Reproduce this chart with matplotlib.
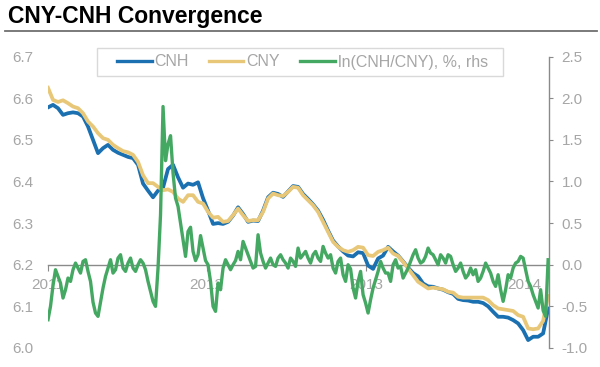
import matplotlib
matplotlib.use("Agg")
import matplotlib.pyplot as plt
import matplotlib.dates as mdates
from matplotlib.patches import Rectangle
import pandas as pd

plt.rcParams['font.family'] = ['Liberation Sans', 'DejaVu Sans']
plt.rcParams['axes.unicode_minus'] = False

title = "CNY-CNH Convergence"
start_date = "2011-01-01"
step_fx = "276h"      # sampling step of the traced CNY / CNH series (~11.5 days)
step_spread = "138h"  # sampling step of the traced spread series (~5.75 days)

cny = [6.625, 6.596, 6.591, 6.595, 6.588, 6.580, 6.576, 6.564, 6.544, 6.532, 6.516, 6.504, 6.500, 6.488, 6.480, 6.473, 6.470, 6.464,
       6.447, 6.415, 6.396, 6.396, 6.387, 6.379, 6.381, 6.375, 6.359, 6.351, 6.367, 6.367, 6.351, 6.347, 6.327, 6.313,
       6.315, 6.303, 6.305, 6.319, 6.335, 6.319, 6.305, 6.307, 6.307, 6.327, 6.359, 6.371, 6.367, 6.365, 6.375, 6.387, 6.385,
       6.367, 6.355, 6.343, 6.327, 6.303, 6.279, 6.255, 6.243, 6.235, 6.231, 6.235, 6.243, 6.241, 6.223, 6.221, 6.231, 6.235,
       6.241, 6.227, 6.221, 6.207, 6.191, 6.175, 6.159, 6.151, 6.143, 6.145, 6.143, 6.141, 6.135, 6.133, 6.123, 6.121, 6.121,
       6.121, 6.121, 6.121, 6.115, 6.103, 6.095, 6.093, 6.091, 6.089, 6.079, 6.075, 6.047, 6.045, 6.047, 6.065, 6.125]

cnh = [6.578, 6.584, 6.576, 6.560, 6.564, 6.566, 6.564, 6.556, 6.532, 6.500, 6.468, 6.480, 6.488, 6.476, 6.469, 6.464, 6.459, 6.456,
       6.440, 6.395, 6.378, 6.362, 6.378, 6.385, 6.430, 6.440, 6.410, 6.385, 6.395, 6.392, 6.398, 6.360, 6.330, 6.298,
       6.300, 6.298, 6.303, 6.318, 6.338, 6.322, 6.303, 6.306, 6.305, 6.330, 6.362, 6.373, 6.370, 6.363, 6.376, 6.389, 6.387,
       6.370, 6.358, 6.345, 6.330, 6.308, 6.282, 6.258, 6.244, 6.232, 6.222, 6.220, 6.230, 6.228, 6.198, 6.190, 6.215, 6.222,
       6.243, 6.232, 6.222, 6.208, 6.193, 6.180, 6.172, 6.155, 6.148, 6.147, 6.143, 6.140, 6.134, 6.130, 6.118, 6.115, 6.114,
       6.111, 6.111, 6.108, 6.100, 6.087, 6.075, 6.075, 6.073, 6.067, 6.059, 6.043, 6.019, 6.027, 6.027, 6.035, 6.095]

spread = [-0.66, -0.50, -0.25, -0.06, -0.14, -0.22, -0.40, -0.30, -0.16, -0.20, -0.06, 0.02,
          -0.04, -0.10, 0.04, 0.06, -0.08, -0.20, -0.45, -0.58, -0.62, -0.45, -0.28, -0.14,
          -0.04, 0.06, -0.10, -0.06, 0.08, 0.12, -0.04, -0.08, 0.02, 0.08, -0.04, -0.08,
          0.00, 0.06, 0.02, -0.06, -0.20, -0.32, -0.44, -0.50, -0.04, 0.60, 1.90, 1.25,
          1.45, 1.55, 1.10, 0.80, 0.70, 0.50, 0.30, 0.10, 0.40, 0.45, 0.16, 0.05,
          0.12, 0.35, 0.20, 0.05, 0.00, -0.20, -0.50, -0.56,
          -0.22, -0.30, -0.04, 0.06, 0.00, -0.06, 0.00, 0.05, 0.16, 0.06, 0.28, 0.20,
          0.12, 0.04, -0.04, -0.02, 0.36, 0.14, 0.04, -0.04, 0.02, 0.08, 0.00, -0.02,
          0.08, 0.12, 0.06, 0.02, -0.04, 0.08, 0.04, -0.02, 0.20, 0.08,
          0.12, 0.16, 0.08, 0.02, 0.12, 0.16, 0.08, 0.04, 0.22, 0.14, 0.08, 0.12,
          -0.04, -0.10, 0.04, 0.08, -0.12, -0.20, 0.00, -0.05, -0.28, -0.40, -0.20, -0.08,
          -0.36, -0.46, -0.58, -0.42, -0.28, -0.18, -0.08, 0.04, -0.04, -0.10,
          -0.10, -0.20, 0.00, 0.06, -0.04, -0.02, -0.16, -0.10, -0.04, 0.04, 0.12, 0.18,
          0.08, 0.02, 0.04, 0.10, 0.20, 0.14, 0.12, 0.06, 0.00, 0.12, 0.08, 0.02,
          0.12, 0.10, 0.00, -0.08, -0.04, 0.02, -0.08, -0.16, -0.12, -0.04,
          -0.12, -0.06, -0.20, -0.16, -0.08, 0.02, -0.04, -0.10, -0.20, -0.26, -0.12, -0.30,
          -0.44, -0.30, -0.12, -0.16, -0.04, 0.02, 0.04, 0.10, 0.08, -0.06, -0.20, -0.26,
          -0.36, -0.44, -0.52, -0.30, -0.55, -0.62, 0.06]

left_ticks = [6.0, 6.1, 6.2, 6.3, 6.4, 6.5, 6.6, 6.7]
right_ticks = [-1.0, -0.5, 0.0, 0.5, 1.0, 1.5, 2.0, 2.5]
labels = ["CNH", "CNY", "ln(CNH/CNY), %, rhs"]

dates_fx = pd.date_range(start_date, periods=len(cny), freq=step_fx)
dates_sp = pd.date_range(start_date, periods=len(spread), freq=step_spread)

c_blue = '#1a70b0'
c_yel = '#e8c878'
c_grn = '#45a862'
c_lab = '#a6a6a6'
c_axis = '#8a8a8a'

fig = plt.figure(figsize=(6.0, 3.67), dpi=100)
ax = fig.add_axes([0.08, 0.0518, 0.835, 0.794])
ax2 = ax.twinx()

l1, = ax.plot(dates_fx, cnh, color=c_blue, lw=2.7, zorder=3, solid_joinstyle='round')
l2, = ax.plot(dates_fx, cny, color=c_yel, lw=2.7, zorder=4, solid_joinstyle='round')
l3, = ax2.plot(dates_sp, spread, color=c_grn, lw=2.4, zorder=3, solid_joinstyle='round')

ax.set_xlim(dates_fx[0], dates_fx[-1] + pd.Timedelta(days=2))
ax.set_ylim(6.0, 6.7)
ax2.set_ylim(-1.0, 2.5)

ax.set_yticks(left_ticks)
ax.set_yticklabels([f"{v:.1f}" for v in left_ticks])
ax2.set_yticks(right_ticks)
ax2.set_yticklabels([f"{v:.1f}" for v in right_ticks])

for s in ['left', 'top', 'right']:
    ax.spines[s].set_visible(False)
ax.spines['bottom'].set_position(('data', 6.2))
ax.spines['bottom'].set_color(c_axis)
ax.spines['bottom'].set_linewidth(1.0)
ax.spines['bottom'].set_zorder(2)
for s in ['left', 'top', 'bottom']:
    ax2.spines[s].set_visible(False)
ax2.spines['right'].set_color(c_axis)
ax2.spines['right'].set_linewidth(1.0)

ax.xaxis.set_major_locator(mdates.YearLocator())
ax.xaxis.set_major_formatter(mdates.DateFormatter('%Y'))
ax.tick_params(axis='x', direction='out', length=4, color=c_axis, labelcolor=c_lab, labelsize=11, pad=5.5)
ax.tick_params(axis='y', length=0, labelcolor=c_lab, labelsize=11, pad=10.6)
ax2.tick_params(axis='y', direction='out', length=3, color=c_axis, labelcolor=c_lab, labelsize=11, pad=6)

# title and rule
fig.text(8 / 600, 1 - 16 / 367, title, fontsize=16.5, fontweight='bold', color='black', va='center', ha='left')
fig.add_artist(plt.Line2D([5 / 600, 597 / 600], [1 - 31 / 367, 1 - 31 / 367], color='#707070', lw=1.3,
                          transform=fig.transFigure))

# legend box and entries
fig.add_artist(Rectangle((97 / 600, 1 - 76 / 367), 406 / 600, 28 / 367, transform=fig.transFigure,
                         facecolor='white', edgecolor='#d9d9d9', lw=1.0, zorder=5))
leg = fig.legend([l1, l2, l3], labels, loc='center', bbox_to_anchor=(302.5 / 600, 1 - 62 / 367),
                 ncol=3, frameon=False, fontsize=11.5, handlelength=2.15, handletextpad=0.2,
                 columnspacing=1.25, borderpad=0.2)
leg.set_zorder(6)
for t in leg.get_texts():
    t.set_color(c_lab)
for h in leg.legend_handles:
    h.set_linewidth(2.4)

fig.savefig("out.png", dpi=100)
